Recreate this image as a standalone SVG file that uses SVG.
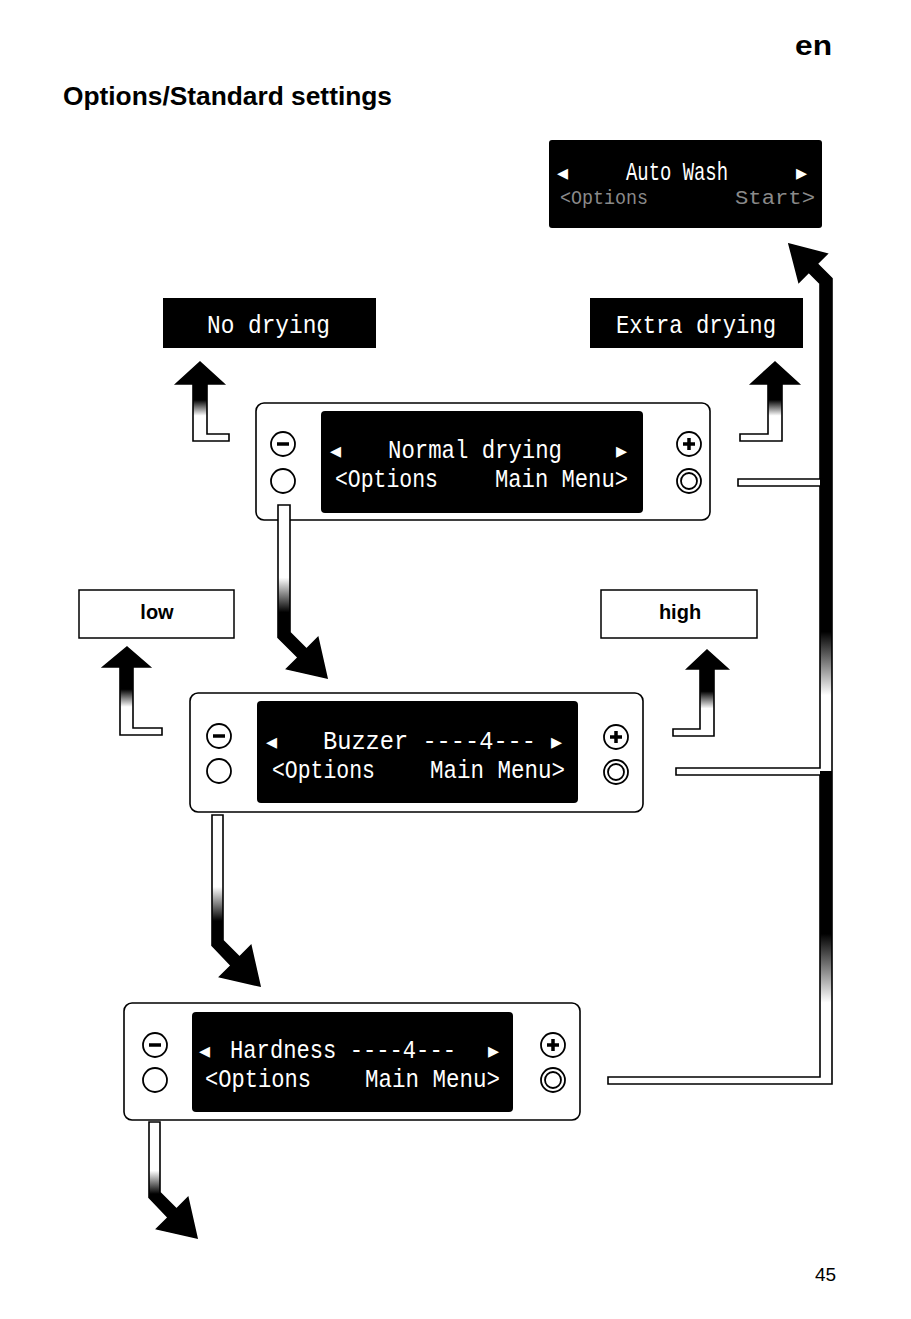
<svg xmlns="http://www.w3.org/2000/svg" width="911" height="1319" viewBox="0 0 911 1319">
<style>
.title{font-family:"Liberation Sans",Arial,sans-serif;font-weight:bold;fill:#000}
.lcd{font-family:"Liberation Mono","DejaVu Sans Mono",monospace;font-size:25px;fill:#fff}
.lcdf{font-family:"Liberation Mono","DejaVu Sans Mono",monospace;font-size:20px;fill:#8a8a8a}
.tri{font-family:"DejaVu Sans",sans-serif;font-size:22px;fill:#fff}
.panel{fill:#fff;stroke:#000;stroke-width:1.6}
.disp{fill:#000}
.btn{fill:#fff;stroke:#000;stroke-width:1.8}
.bar{stroke:#000;stroke-width:3.5;stroke-linecap:butt}
.box{fill:#fff;stroke:#000;stroke-width:1.5}
.lbl{font-family:"Liberation Sans",Arial,sans-serif;font-weight:bold;font-size:20px;fill:#000}
.arr{stroke:#000;stroke-width:1.6;stroke-linejoin:miter}
.up{fill:url(#gUp)}
.down{fill:url(#gDown)}
.outline{fill:none;stroke:#000;stroke-width:1.6}
</style>
<defs>
<linearGradient id="gUp" x1="0" y1="0" x2="0" y2="1">
<stop offset="0" stop-color="#000"/><stop offset="0.48" stop-color="#000"/><stop offset="0.68" stop-color="#fff"/><stop offset="1" stop-color="#fff"/>
</linearGradient>
<linearGradient id="gDown" x1="0" y1="0" x2="0" y2="1">
<stop offset="0" stop-color="#fff"/><stop offset="0.42" stop-color="#fff"/><stop offset="0.62" stop-color="#000"/><stop offset="1" stop-color="#000"/>
</linearGradient>
<linearGradient id="gSeg" x1="0" y1="0" x2="0" y2="1">
<stop offset="0" stop-color="#000"/><stop offset="0.52" stop-color="#000"/><stop offset="0.74" stop-color="#fff"/><stop offset="1" stop-color="#fff"/>
</linearGradient>
</defs>

<g id="header">
<text class="title" x="63" y="105" font-size="26" textLength="329" lengthAdjust="spacingAndGlyphs">Options/Standard settings</text>
<text class="title" x="795" y="55" font-size="28" textLength="37" lengthAdjust="spacingAndGlyphs">en</text>
<text x="815" y="1281" font-family="Liberation Sans, Arial, sans-serif" font-size="19">45</text>
</g>

<g id="auto-wash">
<rect class="disp" x="549" y="140" width="273" height="88" rx="3"/>
<text class="tri" x="557" y="180">◂</text>
<text class="lcd" x="626" y="180" font-size="23" textLength="102" lengthAdjust="spacingAndGlyphs">Auto Wash</text>
<text class="tri" x="796" y="180">▸</text>
<text class="lcdf" x="560" y="204" textLength="88" lengthAdjust="spacingAndGlyphs">&lt;Options</text>
<text class="lcdf" x="735" y="204" textLength="80" lengthAdjust="spacingAndGlyphs">Start&gt;</text>
</g>

<g id="no-drying">
<rect class="disp" x="163" y="298" width="213" height="50"/>
<text class="lcd" x="207" y="333" font-size="26" textLength="123" lengthAdjust="spacingAndGlyphs">No drying</text>
</g>

<g id="extra-drying">
<rect class="disp" x="590" y="298" width="213" height="50"/>
<text class="lcd" x="616" y="333" font-size="26" textLength="160" lengthAdjust="spacingAndGlyphs">Extra drying</text>
</g>

<g id="normal-drying">
<rect class="panel" x="256" y="403" width="454" height="117" rx="8"/>
<rect class="disp" x="321" y="411" width="322" height="102" rx="4"/>
<circle class="btn" cx="283" cy="444" r="12"/><line class="bar" x1="277" y1="444" x2="289" y2="444"/>
<circle class="btn" cx="283" cy="481" r="12"/>
<circle class="btn" cx="689" cy="444" r="12"/><line class="bar" x1="683" y1="444" x2="695" y2="444"/><line class="bar" x1="689" y1="438" x2="689" y2="450"/>
<circle class="btn" cx="689" cy="481" r="12"/><circle class="btn" cx="689" cy="481" r="8"/>
<text class="tri" x="330" y="458">◂</text>
<text class="lcd" x="388" y="458" textLength="174" lengthAdjust="spacingAndGlyphs">Normal drying</text>
<text class="tri" x="616" y="458">▸</text>
<text class="lcd" x="335" y="487" textLength="103" lengthAdjust="spacingAndGlyphs">&lt;Options</text>
<text class="lcd" x="495" y="487" textLength="133" lengthAdjust="spacingAndGlyphs">Main Menu&gt;</text>
</g>

<g id="low">
<rect class="box" x="79" y="590" width="155" height="48"/>
<text class="lbl" x="157" y="619" text-anchor="middle">low</text>
</g>

<g id="high">
<rect class="box" x="601" y="590" width="156" height="48"/>
<text class="lbl" x="680" y="619" text-anchor="middle">high</text>
</g>

<g id="buzzer">
<rect class="panel" x="190" y="693" width="453" height="119" rx="8"/>
<rect class="disp" x="257" y="701" width="321" height="102" rx="4"/>
<circle class="btn" cx="219" cy="736" r="12"/><line class="bar" x1="213" y1="736" x2="225" y2="736"/>
<circle class="btn" cx="219" cy="771" r="12"/>
<circle class="btn" cx="616" cy="737" r="12"/><line class="bar" x1="610" y1="737" x2="622" y2="737"/><line class="bar" x1="616" y1="731" x2="616" y2="743"/>
<circle class="btn" cx="616" cy="772" r="12"/><circle class="btn" cx="616" cy="772" r="8"/>
<text class="tri" x="266" y="749">◂</text>
<text class="lcd" x="323" y="749" textLength="213" lengthAdjust="spacingAndGlyphs">Buzzer ----4---</text>
<text class="tri" x="551" y="749">▸</text>
<text class="lcd" x="272" y="778" textLength="103" lengthAdjust="spacingAndGlyphs">&lt;Options</text>
<text class="lcd" x="430" y="778" textLength="135" lengthAdjust="spacingAndGlyphs">Main Menu&gt;</text>
</g>

<g id="hardness">
<rect class="panel" x="124" y="1003" width="456" height="117" rx="8"/>
<rect class="disp" x="192" y="1012" width="321" height="100" rx="4"/>
<circle class="btn" cx="155" cy="1045" r="12"/><line class="bar" x1="149" y1="1045" x2="161" y2="1045"/>
<circle class="btn" cx="155" cy="1080" r="12"/>
<circle class="btn" cx="553" cy="1045" r="12"/><line class="bar" x1="547" y1="1045" x2="559" y2="1045"/><line class="bar" x1="553" y1="1039" x2="553" y2="1051"/>
<circle class="btn" cx="553" cy="1080" r="12"/><circle class="btn" cx="553" cy="1080" r="8"/>
<text class="tri" x="199" y="1058">◂</text>
<text class="lcd" x="230" y="1058" font-size="24" textLength="226" lengthAdjust="spacingAndGlyphs">Hardness ----4---</text>
<text class="tri" x="488" y="1058">▸</text>
<text class="lcd" x="205" y="1087" textLength="106" lengthAdjust="spacingAndGlyphs">&lt;Options</text>
<text class="lcd" x="365" y="1087" textLength="135" lengthAdjust="spacingAndGlyphs">Main Menu&gt;</text>
</g>

<g id="connectors">
<path class="arr up" d="M200,362 L224,384 L207,384 L207,434 L229,434 L229,441 L193,441 L193,384 L176,384 Z"/>
<path class="arr up" d="M775,362 L799,384 L782,384 L782,441 L740,441 L740,434 L768,434 L768,384 L751,384 Z"/>
<path class="arr up" d="M127,647 L150,667 L133,667 L133,728 L162,728 L162,735 L120,735 L120,667 L103,667 Z"/>
<path class="arr up" d="M707,650 L728,669 L714,669 L714,736 L673,736 L673,729 L700,729 L700,669 L687,669 Z"/>
<path class="arr down" d="M278,505 L290,505 L290,632.6 L306.5,649.1 L317.9,637.7 L327,678 L286.7,668.9 L298.1,657.5 L278,637.4 Z"/>
<path class="arr down" d="M212,815 L223,815 L223,940.6 L239.5,957.1 L250.9,945.7 L260,986 L219.7,976.9 L231.1,965.5 L212,945.4 Z"/>
<path class="arr down" d="M149,1122 L160,1122 L160,1192.6 L176.5,1209.1 L187.9,1197.7 L197,1238 L156.7,1228.9 L168.1,1217.5 L149,1197.4 Z"/>
<path fill="#000" d="M789,244 L827.1,253.9 L817.2,263.8 L832,278.6 L832,482 L820,482 L820,283.4 L808.8,272.2 L798.9,282.1 Z"/>
<rect x="820" y="482" width="12" height="288" fill="url(#gSeg)"/>
<rect x="820" y="771" width="12" height="313" fill="url(#gSeg)"/>
<path class="outline" d="M789,244 L827.1,253.9 L817.2,263.8 L832,278.6 L832,1084 L608,1084 L608,1077 L820,1077 L820,775 L676,775 L676,768 L820,768 L820,486 L738,486 L738,479 L820,479 L820,283.4 L808.8,272.2 L798.9,282.1 Z"/>
</g>
</svg>
